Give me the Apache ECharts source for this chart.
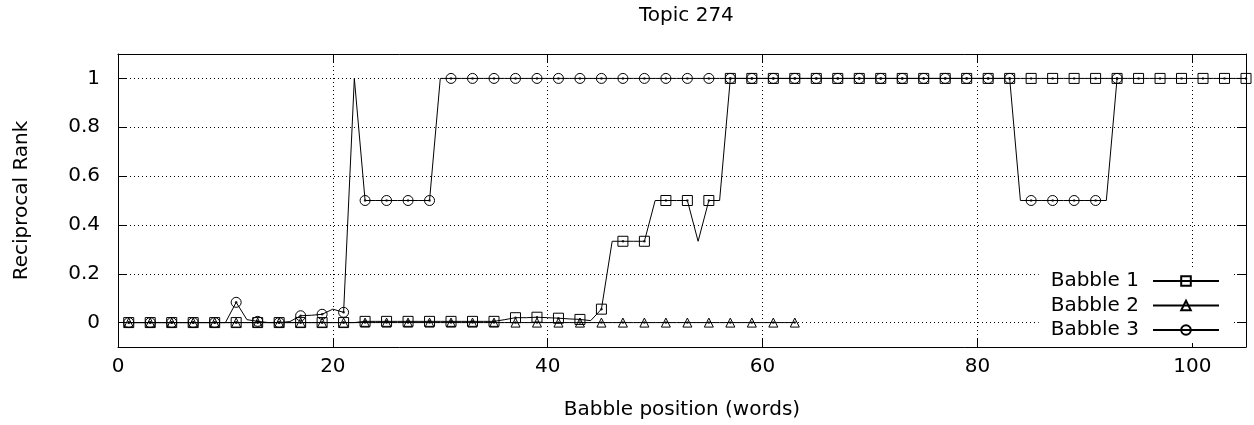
<!DOCTYPE html>
<html>
<head>
<meta charset="utf-8">
<script src="https://cdn.jsdelivr.net/npm/echarts@6/dist/echarts.min.js"></script>
<style>
html,body{margin:0;padding:0;background:#fff;}
#chart{width:1254px;height:425px;}
</style>
</head>
<body>
<div id="chart"></div>
<script>
// Word positions start at 1 and step by 1 for every series
const startPosition = 1;
const xTicks = [0, 20, 40, 60, 80, 100];
const yTicks = [0, 0.2, 0.4, 0.6, 0.8, 1];
const seriesNames = ['Babble 1', 'Babble 2', 'Babble 3'];

const babble1 = [
  0,0,0,0,0,0,0,0,0,0,
  0,0,0,0,0,0,0,0,0,0,
  0,0,0.005,0.005,0.005,0.005,0.005,0.005,0.005,0.005,
  0.005,0.005,0.005,0.005,0.005,0.012,0.02,0.02,0.022,0.02,
  0.018,0.015,0.013,0.008,0.055,0.333,0.333,0.333,0.333,0.5,
  0.5,0.5,0.5,0.333,0.5,0.5,1,1,1,1,
  1,1,1,1,1,1,1,1,1,1,
  1,1,1,1,1,1,1,1,1,1,
  1,1,1,1,1,1,1,1,1,1,
  1,1,1,1,1,1,1,1,1,1,
  1,1,1,1,1
];
const babble2 = [
  0,0,0,0,0,0,0,0,0,0,
  0,0,0,0,0,0,0,0,0,0,
  0,0,0,0,0,0,0,0,0,0,
  0,0,0,0,0,0,0,0,0,0,
  0,0,0,0,0,0,0,0,0,0,
  0,0,0,0,0,0,0,0,0,0,
  0,0,0
];
const babble3 = [
  0,0,0,0,0,0,0,0,0,0,
  0.083,0.012,0.005,0,0,0.004,0.028,0.03,0.034,0.055,
  0.042,1,0.5,0.5,0.5,0.5,0.5,0.5,0.5,1,
  1,1,1,1,1,1,1,1,1,1,
  1,1,1,1,1,1,1,1,1,1,
  1,1,1,1,1,1,1,1,1,1,
  1,1,1,1,1,1,1,1,1,1,
  1,1,1,1,1,1,1,1,1,1,
  1,1,1,0.5,0.5,0.5,0.5,0.5,0.5,0.5,
  0.5,0.5,1
];

const symbols = ['rect', 'triangle', 'circle'];
const allData = [babble1, babble2, babble3];

function lineData(vals, sym) {
  return vals.map((v, i) => ({
    value: [startPosition + i, v],
    symbol: (i % 2 === 0) ? sym : 'none'
  }));
}
function dotData(vals) {
  const out = [];
  vals.forEach((v, i) => { if (i % 2 === 0) out.push([startPosition + i, v]); });
  return out;
}

const series = [];
allData.forEach((vals, k) => {
  series.push({
    name: seriesNames[k],
    type: 'line',
    data: lineData(vals, symbols[k]),
    symbol: symbols[k],
    symbolSize: symbols[k] === 'triangle' ? 9 : 10,
    showAllSymbol: true,
    lineStyle: { color: '#000', width: 1 },
    itemStyle: { color: 'rgba(0,0,0,0)', borderColor: '#000', borderWidth: 1 },
    emphasis: { disabled: true },
    z: 3
  });
});
allData.forEach((vals, k) => {
  series.push({
    name: seriesNames[k] + ' dot',
    type: 'scatter',
    data: dotData(vals),
    symbol: 'circle',
    symbolSize: 2.5,
    itemStyle: { color: '#000' },
    silent: true,
    z: 4
  });
});

const fontFamily = 'DejaVu Sans';
const fs = 20;
const chart = echarts.init(document.getElementById('chart'), null, { renderer: 'canvas' });
chart.setOption({
  animation: false,
  backgroundColor: '#fff',
  textStyle: { fontFamily: fontFamily },
  title: {
    text: 'Topic 274',
    left: 634,
    top: 1,
    textStyle: { fontFamily: fontFamily, fontSize: fs, fontWeight: 'normal', color: '#000' }
  },
  grid: { left: 118, right: 8, top: 54, bottom: 75, containLabel: false },
  legend: {
    data: seriesNames,
    orient: 'vertical',
    right: 22,
    top: 268,
    align: 'right',
    itemWidth: 66,
    itemHeight: 12,
    itemGap: 4.5,
    padding: [3, 12, 3, 12],
    backgroundColor: '#fff',
    textStyle: { fontFamily: fontFamily, fontSize: fs, color: '#000', padding: [0, 9, 0, 0] },
    inactiveColor: '#000',
    z: 5
  },
  xAxis: [{
    type: 'value',
    min: 0, max: 105,
    position: 'bottom',
    name: 'Babble position (words)',
    nameLocation: 'middle',
    nameGap: 53,
    nameTextStyle: { fontFamily: fontFamily, fontSize: fs, color: '#000' },
    axisLine: { show: true, onZero: false, lineStyle: { color: '#000', width: 1 } },
    axisTick: { show: true, inside: true, length: 9, customValues: xTicks, lineStyle: { color: '#000' } },
    axisLabel: { customValues: xTicks, fontSize: fs, color: '#000', margin: 10, fontFamily: fontFamily },
    splitLine: { show: true, lineStyle: { color: '#000', type: [1, 3], width: 1 } }
  }, {
    type: 'value',
    min: 0, max: 105,
    position: 'top',
    axisLine: { show: true, onZero: false, lineStyle: { color: '#000', width: 1 } },
    axisTick: { show: true, inside: true, length: 9, customValues: xTicks, lineStyle: { color: '#000' } },
    axisLabel: { show: false },
    splitLine: { show: false }
  }],
  yAxis: [{
    type: 'value',
    min: -0.1, max: 1.1,
    position: 'left',
    name: 'Reciprocal Rank',
    nameLocation: 'middle',
    nameGap: 86,
    nameRotate: 90,
    nameTextStyle: { fontFamily: fontFamily, fontSize: fs, color: '#000' },
    axisLine: { show: true, onZero: false, lineStyle: { color: '#000', width: 1 } },
    axisTick: { show: true, inside: true, length: 9, customValues: yTicks, lineStyle: { color: '#000' } },
    axisLabel: { customValues: yTicks, fontSize: fs, color: '#000', margin: 18, fontFamily: fontFamily,
      formatter: v => String(Math.round(v * 10) / 10) },
    splitLine: { show: true, lineStyle: { color: '#000', type: [1, 3], width: 1 } }
  }, {
    type: 'value',
    min: -0.1, max: 1.1,
    position: 'right',
    axisLine: { show: true, onZero: false, lineStyle: { color: '#000', width: 1 } },
    axisTick: { show: true, inside: true, length: 9, customValues: yTicks, lineStyle: { color: '#000' } },
    axisLabel: { show: false },
    splitLine: { show: false }
  }],
  series: series
});
</script>
</body>
</html>
